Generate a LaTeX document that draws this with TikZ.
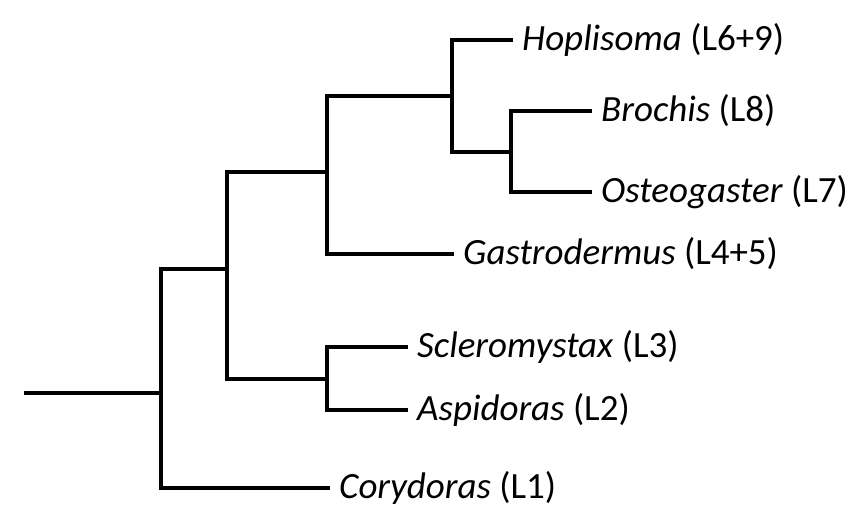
\documentclass[tikz,border=0pt]{standalone}
\usepackage{fontspec}
\setmainfont{Carlito}
\usepackage{tikz}
\usetikzlibrary{positioning,calc}

\begin{document}
\begin{tikzpicture}[
    x=1pt, y=-1pt,
    branch/.style={line width=4.5pt, line join=miter},
    taxon/.style={anchor=west, inner xsep=9pt, inner ysep=0pt, font=\fontsize{37}{41}\selectfont}
]
    \useasboundingbox (0,0) rectangle (868,518);

    % leaves
    \node[taxon] (hop) at (513,40)  {\textit{Hoplisoma} (L6+9)};
    \node[taxon] (bro) at (592,111) {\textit{Brochis} (L8)};
    \node[taxon] (ost) at (592,192) {\textit{Osteogaster} (L7)};
    \node[taxon] (gas) at (454,254) {\textit{Gastrodermus} (L4+5)};
    \node[taxon] (scl) at (408,347) {\textit{Scleromystax} (L3)};
    \node[taxon] (asp) at (408,410) {\textit{Aspidoras} (L2)};
    \node[taxon] (cor) at (330,488) {\textit{Corydoras} (L1)};

    % internal nodes
    \coordinate (root) at (24,393);
    \coordinate (n1) at (161,393);
    \coordinate (n2) at (227,269);
    \coordinate (n3) at (327,172);
    \coordinate (n4) at (327,379);
    \coordinate (n5) at (452,96);
    \coordinate (n6) at (511,152);

    % branches
    \draw[branch] (bro.west) -| (n6) |- (ost.west);
    \draw[branch] (hop.west) -| (n5) |- (n6);
    \draw[branch] (n5) -| (n3) |- (gas.west);
    \draw[branch] (scl.west) -| (n4) |- (asp.west);
    \draw[branch] (n3) -| (n2) |- (n4);
    \draw[branch] (n2) -| (n1) |- (cor.west);
    \draw[branch] (root) -- (n1);
\end{tikzpicture}
\end{document}
